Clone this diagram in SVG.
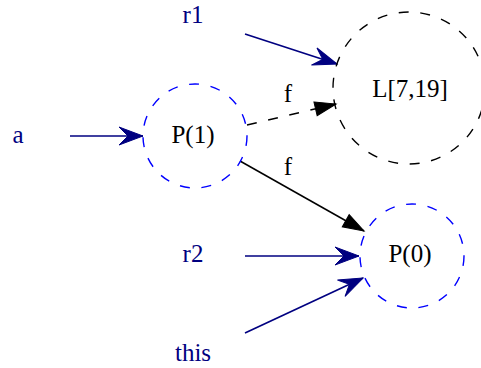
<svg xmlns="http://www.w3.org/2000/svg" width="481" height="368" viewBox="0 0 481 368">
<style>
text{font-family:"Liberation Serif","Times New Roman",serif;font-size:25px;text-anchor:middle}
.lbl{fill:#000080}
.blk{fill:#000000}
.pc{fill:none;stroke:#0000ff;stroke-width:1.4;stroke-dasharray:10,11.7}
.lc{fill:none;stroke:#000000;stroke-width:1.4;stroke-dasharray:10,11.7}
.ne{stroke:#000080;stroke-width:1.7;fill:none}
.fe{stroke:#000000;stroke-width:1.5;fill:none}
</style>
<defs>
<marker id="vee" markerUnits="userSpaceOnUse" markerWidth="26" markerHeight="20" refX="24" refY="9" orient="auto" overflow="visible">
<path d="M24,9 L0,0 L9,9 L0,18 Z" fill="#000080" stroke="#000080" stroke-width="1"/>
</marker>
<marker id="tri" markerUnits="userSpaceOnUse" markerWidth="24" markerHeight="16" refX="21" refY="7" orient="auto" overflow="visible">
<path d="M0,0 L21,7 L0,14 Z" fill="#000000" stroke="#000000" stroke-width="1"/>
</marker>
</defs>
<g id="connectors">
<line class="ne" x1="245" y1="34" x2="337" y2="64" marker-end="url(#vee)"/>
<line class="ne" x1="70" y1="136" x2="143" y2="136" marker-end="url(#vee)"/>
<line class="fe" x1="247" y1="125" x2="336" y2="104" stroke-dasharray="10,11.7" marker-end="url(#tri)"/>
<text class="blk" x="288" y="102">f</text>
<line class="fe" x1="240" y1="161" x2="364" y2="231" marker-end="url(#tri)"/>
<text class="blk" x="288" y="175">f</text>
<line class="ne" x1="245" y1="256" x2="359" y2="256" marker-end="url(#vee)"/>
<line class="ne" x1="245" y1="333" x2="363" y2="278" marker-end="url(#vee)"/>
</g>
<g id="r1"><text class="lbl" x="193" y="23">r1</text></g>
<g id="a"><text class="lbl" x="18" y="143">a</text></g>
<g id="r2"><text class="lbl" x="193" y="262">r2</text></g>
<g id="this"><text class="lbl" x="193" y="361">this</text></g>
<g id="P1"><circle class="pc" cx="195" cy="136" r="52"/><text class="blk" x="193" y="143">P(1)</text></g>
<g id="L"><circle class="lc" cx="409" cy="88" r="76"/><text class="blk" x="410" y="97">L[7,19]</text></g>
<g id="P0"><circle class="pc" cx="412" cy="256" r="52"/><text class="blk" x="410" y="262">P(0)</text></g>
</svg>
